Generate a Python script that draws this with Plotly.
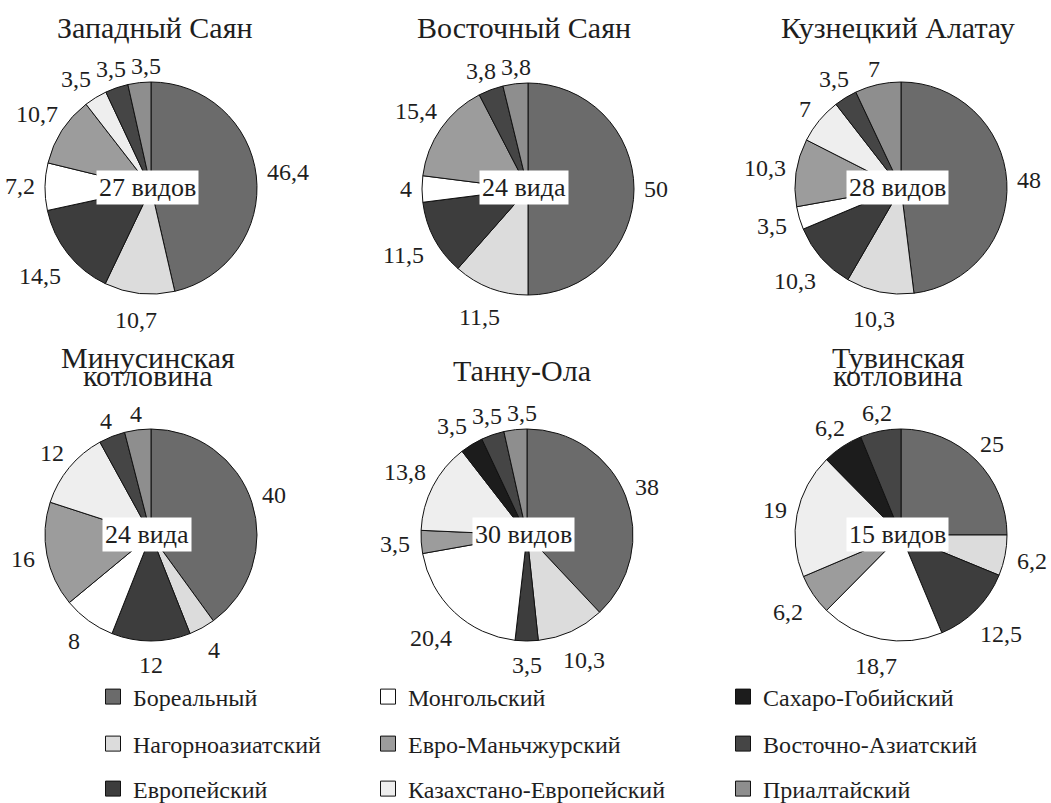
import math
import plotly.graph_objects as go

categories = ["Бореальный", "Нагорноазиатский", "Европейский", "Монгольский",
              "Евро-Маньчжурский", "Казахстано-Европейский", "Сахаро-Гобийский",
              "Восточно-Азиатский", "Приалтайский"]
colors = ["#6b6b6b", "#dcdcdc", "#3d3d3d", "#ffffff", "#9c9c9c",
          "#eeeeee", "#1c1c1c", "#454545", "#8e8e8e"]

regions = ["Западный Саян", "Восточный Саян", "Кузнецкий Алатау",
           "Минусинская котловина", "Танну-Ола", "Тувинская котловина"]
species = ["27 видов", "24 вида", "28 видов", "24 вида", "30 видов", "15 видов"]

zapadny_sayan = [46.4, 10.7, 14.5, 7.2, 10.7, 3.5, 0, 3.5, 3.5]
vostochny_sayan = [50, 11.5, 11.5, 4, 15.4, 0, 0, 3.8, 3.8]
kuznetsky_alatau = [48, 10.3, 10.3, 3.5, 10.3, 7, 0, 3.5, 7]
minusinskaya = [40, 4, 12, 8, 16, 12, 0, 4, 4]
tannu_ola = [38, 10.3, 3.5, 20.4, 3.5, 13.8, 3.5, 3.5, 3.5]
tuvinskaya = [25, 6.2, 12.5, 18.7, 6.2, 19, 6.2, 6.2, 0]

series = [zapadny_sayan, vostochny_sayan, kuznetsky_alatau,
          minusinskaya, tannu_ola, tuvinskaya]

# the figure is a little taller than the window so the bottom legend row
# is not clamped; the extra strip is below the visible area
W, H = 1051, 840
FONT = "Liberation Serif, Times New Roman, serif"
TXT = "#1e1e1e"
LABEL_FS = 24

# layout geometry (pixels from top-left)
centers = [(151, 188), (528, 189), (901, 188), (151, 535), (527, 535), (901, 535)]
R = 106
title_lines_y = [[28], [28], [28], [357, 376], [370], [357, 376]]
title_x = [155, 524, 898, 148, 522, 898]


def px_x(x):
    return x / W


def px_y(y):
    return 1 - y / H


def fmt(v):
    return f"{v:g}".replace(".", ",")


def text_halfwidth(s, fs):
    return sum(0.5 if ch.isdigit() else 0.25 for ch in s) * fs / 2


def spread_labels(items, gap=5, ink_h=0.72 * LABEL_FS):
    # push overlapping outside labels apart horizontally
    for _ in range(60):
        moved = False
        for a in range(len(items)):
            for b in range(a + 1, len(items)):
                xa, ya, hwa = items[a][0], items[a][1], items[a][2]
                xb, yb, hwb = items[b][0], items[b][1], items[b][2]
                ox = hwa + hwb + gap - abs(xa - xb)
                oy = ink_h - abs(ya - yb)
                if ox > 0 and oy > 0:
                    sgn = 1 if xb >= xa else -1
                    items[a][0] -= sgn * ox / 2
                    items[b][0] += sgn * ox / 2
                    moved = True
        if not moved:
            break
    return items


fig = go.Figure()

for i, vals in enumerate(series):
    cx, cy = centers[i]
    labs, vs, cols = [], [], []
    for c, v, col in zip(categories, vals, colors):
        if v > 0:
            labs.append(c)
            vs.append(v)
            cols.append(col)
    fig.add_trace(go.Pie(
        labels=labs, values=vs, textinfo="none",
        sort=False, direction="clockwise", rotation=0,
        marker=dict(colors=cols, line=dict(color="#111111", width=1)),
        domain=dict(x=[px_x(cx - R), px_x(cx + R)], y=[px_y(cy + R), px_y(cy - R)]),
        showlegend=False, hoverinfo="skip",
    ))
    # value labels outside each slice, placed at the slice's mid-angle
    total = sum(vs)
    cum = 0.0
    items = []
    for v in vs:
        mid = (cum + v / 2) / total
        cum += v
        th = 2 * math.pi * mid
        dx, dy = math.sin(th), -math.cos(th)
        s = fmt(v)
        hw = text_halfwidth(s, LABEL_FS)
        hh = 0.4 * LABEL_FS
        pad = 10 + 4.5 * dy
        dist = R + pad + hw * abs(dx) + hh * abs(dy)
        items.append([cx + dist * dx, cy + dist * dy, hw, s])
    for x, y, hw, s in spread_labels(items):
        fig.add_annotation(
            x=px_x(x), y=px_y(y),
            xref="paper", yref="paper", text=s, showarrow=False,
            font=dict(family=FONT, size=LABEL_FS, color=TXT),
            xanchor="center", yanchor="middle",
        )
    fig.add_annotation(
        x=px_x(cx - 4), y=px_y(cy - 1), xref="paper", yref="paper",
        text=species[i], showarrow=False, bgcolor="white", borderpad=2,
        font=dict(family=FONT, size=26, color=TXT),
        xanchor="center", yanchor="middle",
    )
    lines = regions[i].split(" ") if len(title_lines_y[i]) == 2 else [regions[i]]
    for line, ly in zip(lines, title_lines_y[i]):
        fig.add_annotation(
            x=px_x(title_x[i]), y=px_y(ly), xref="paper", yref="paper",
            text=line, showarrow=False,
            font=dict(family=FONT, size=30, color=TXT),
            xanchor="center", yanchor="middle",
        )

# legend: three columns, three rows, column-major
legend_cols_x = [93, 368, 723]
legend_rows_y = [697, 744, 789]
legend_layouts = {}
for k, (cat, col) in enumerate(zip(categories, colors)):
    cidx, ridx = divmod(k, 3)
    name = "legend" if k == 0 else f"legend{k + 1}"
    fig.add_trace(go.Scatter(
        x=[None], y=[None], mode="markers", name=cat,
        marker=dict(symbol="square", size=15, color=col,
                    line=dict(color="#111111", width=1)),
        legend=name, showlegend=True, hoverinfo="skip",
    ))
    legend_layouts[name] = dict(
        x=px_x(legend_cols_x[cidx]), y=px_y(legend_rows_y[ridx]),
        xanchor="left", yanchor="middle", bgcolor="rgba(0,0,0,0)",
        font=dict(family=FONT, size=24, color=TXT),
        itemclick=False, itemdoubleclick=False,
    )

fig.update_layout(
    width=W, height=H,
    margin=dict(l=0, r=0, t=0, b=0),
    paper_bgcolor="white", plot_bgcolor="white",
    xaxis=dict(visible=False), yaxis=dict(visible=False),
    separators=", ",
    **legend_layouts,
)

fig.write_html(
    "out.html", config={"displayModeBar": False},
    post_script="document.body.style.margin='0';"
                "document.documentElement.style.overflow='hidden';"
                "document.body.style.overflow='hidden';",
)
